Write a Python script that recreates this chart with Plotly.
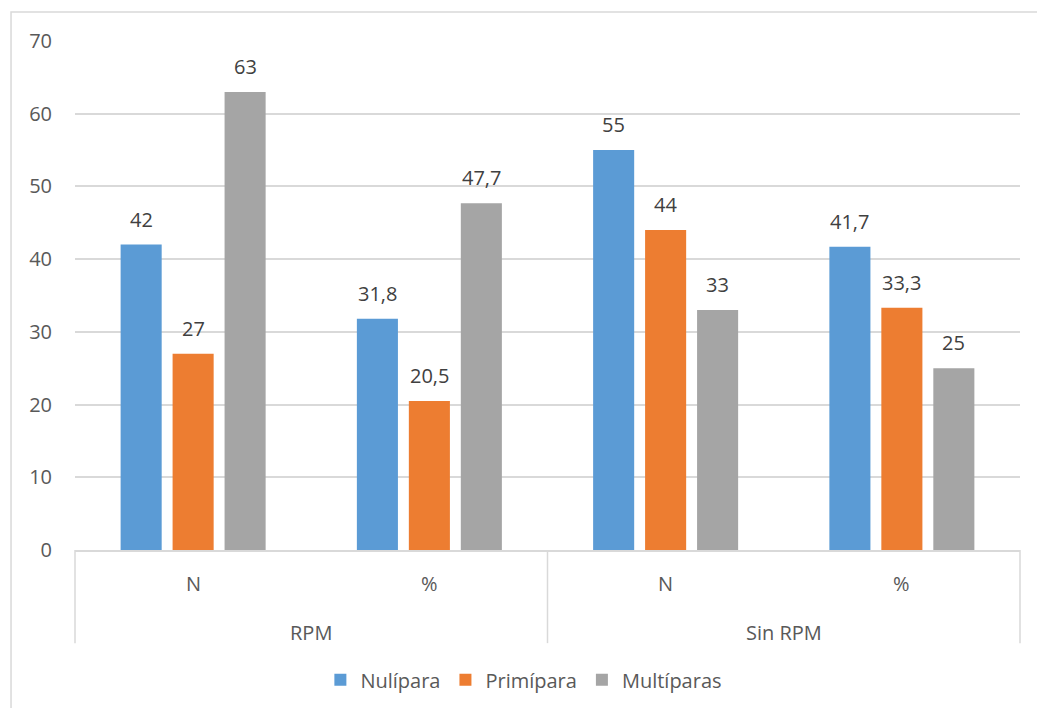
import plotly.graph_objects as go

# Two-level category axis: outer groups and inner measures
groups = ["RPM", "RPM", "Sin RPM", "Sin RPM"]
measures = ["N", "%", "N", "%"]

series_names = ["Nulípara", "Primípara", "Multíparas"]
nulipara = [42, 31.8, 55, 41.7]
primipara = [27, 20.5, 44, 33.3]
multiparas = [63, 47.7, 33, 25]
series_values = [nulipara, primipara, multiparas]
colors = ["#5B9BD5", "#ED7D31", "#A5A5A5"]

y_ticks = [0, 10, 20, 30, 40, 50, 60, 70]

FONT = "Open Sans"
FSIZE = 20
BARGAP = 0.34
BARGROUPGAP = 0.21

xs = list(range(len(measures)))


def fmt(v):
    return f"{v:g}".replace(".", ",")


fig = go.Figure()
for name, vals, col in zip(series_names, series_values, colors):
    fig.add_trace(go.Bar(
        x=xs, y=vals, name=name,
        marker=dict(color=col, line=dict(width=0)),
        hoverinfo="skip",
    ))

# value labels above each bar
n = len(series_names)
slot = (1 - BARGAP) / n
annotations = []
for k, vals in enumerate(series_values):
    offset = (k - (n - 1) / 2) * slot
    for i, v in enumerate(vals):
        annotations.append(dict(
            x=i + offset, y=v, xref="x", yref="y",
            text=fmt(v), showarrow=False,
            yanchor="bottom", yshift=10,
            font=dict(family=FONT, size=FSIZE, color="#404040"),
        ))

# inner category labels
for i, m in enumerate(measures):
    annotations.append(dict(
        x=i, y=-0.066, xref="x", yref="paper",
        text=m, showarrow=False, yanchor="middle",
        font=dict(family=FONT, size=FSIZE, color="#595959"),
    ))

# outer group labels, centred under their members
seen = []
for g in groups:
    if g not in seen:
        seen.append(g)
for g in seen:
    idx = [i for i, gg in enumerate(groups) if gg == g]
    annotations.append(dict(
        x=sum(idx) / len(idx), y=-0.163, xref="x", yref="paper",
        text=g, showarrow=False, yanchor="middle",
        font=dict(family=FONT, size=FSIZE, color="#595959"),
    ))

line_col = "#D9D9D9"
shapes = []
# group dividers below the axis
bounds = [0.0, 0.5, 1.0]
for b in bounds:
    shapes.append(dict(type="line", xref="paper", yref="paper",
                       x0=b, x1=b, y0=0, y1=-0.183,
                       line=dict(color=line_col, width=1.5)))
# outer chart frame
shapes.append(dict(type="rect", xref="paper", yref="paper",
                   x0=-0.0677, x1=1.03, y0=1.057, y1=-0.33,
                   line=dict(color=line_col, width=1.5),
                   fillcolor="rgba(0,0,0,0)", layer="below"))

fig.update_layout(
    width=1037, height=708,
    margin=dict(l=75, r=17, t=41, b=158, autoexpand=False),
    paper_bgcolor="white", plot_bgcolor="white",
    barmode="group", bargap=BARGAP, bargroupgap=BARGROUPGAP,
    font=dict(family=FONT, size=FSIZE, color="#595959"),
    xaxis=dict(
        range=[-0.5, len(measures) - 0.5],
        showticklabels=False, showgrid=False, zeroline=False,
        showline=True, linecolor=line_col, linewidth=1.5,
        fixedrange=True,
    ),
    yaxis=dict(
        range=[0, 70], tickvals=y_ticks,
        showgrid=True, gridcolor=line_col, gridwidth=1.5,
        zeroline=False, showline=False,
        tickfont=dict(family=FONT, size=FSIZE, color="#595959"),
        ticklabelstandoff=22,
        fixedrange=True,
    ),
    legend=dict(
        orientation="h", x=0.475, xanchor="center",
        y=-0.255, yanchor="middle",
        font=dict(family=FONT, size=FSIZE, color="#595959"),
        itemwidth=30, traceorder="normal",
    ),
    annotations=annotations,
    shapes=shapes,
)

fig.write_html("out.html")
